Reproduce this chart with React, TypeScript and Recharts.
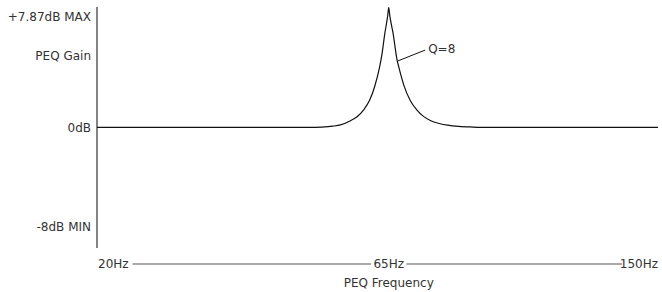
import React from 'react';
import { LineChart, Line, XAxis, YAxis, ReferenceLine, ReferenceDot } from 'recharts';

// Curve samples (x position on frequency axis 0..100, gain in dB)
const freqPos = [0, 38, 40, 42, 43.4, 45, 46.36, 47.5, 48.61, 49.5, 50.39, 50.8, 51.28, 51.82, 52,
  52.19, 52.78, 53.49, 53.78, 54.7, 55.86, 57, 58.2, 59.5, 61, 62.5, 64.5, 67, 70, 100];
const gainDb = [0, 0, 0.03, 0.1, 0.2, 0.5, 0.86, 1.4, 2.2, 3.3, 4.89, 5.9, 7.5, 9.0, 9.67,
  9.0, 7.58, 5.43, 4.89, 3.39, 2.15, 1.42, 0.89, 0.54, 0.32, 0.18, 0.08, 0.03, 0, 0];

const xTicks = [0, 52, 100];
const xTickLabels = ['20Hz', '65Hz', '150Hz'];
const xAxisTitle = 'PEQ Frequency';

const yTicks = [8.9, 5.75, 0, -8];
const yTickLabels = ['+7.87dB MAX', 'PEQ Gain', '0dB', '-8dB MIN'];

const qLabel = 'Q=8';

const data = freqPos.map((p, i) => ({ pos: p, gain: gainDb[i] }));

const FONT = 'DejaVu Sans';
const TEXT = '#333';

const XTick = (props: any) => {
  const { x, y, index } = props;
  const label = xTickLabels[index];
  if (index === 0) {
    return (
      <g>
        <rect x={x - 2} y={y - 8} width={37.5} height={16} fill="#fff" />
        <text x={x + 1} y={y} dy="0.35em" textAnchor="start" fill={TEXT} fontSize={12} fontFamily={FONT}>{label}</text>
      </g>
    );
  }
  if (index === xTicks.length - 1) {
    return (
      <g>
        <rect x={x - 36} y={y - 8} width={40} height={16} fill="#fff" />
        <text x={x} y={y} dy="0.35em" textAnchor="end" fill={TEXT} fontSize={12} fontFamily={FONT}>{label}</text>
      </g>
    );
  }
  return (
    <g>
      <rect x={x - 17.7} y={y - 8} width={35.4} height={16} fill="#fff" />
      <text x={x} y={y} dy="0.35em" textAnchor="middle" fill={TEXT} fontSize={12} fontFamily={FONT}>{label}</text>
      <text x={x} y={y + 19} dy="0.35em" textAnchor="middle" fill={TEXT} fontSize={12} fontFamily={FONT}>{xAxisTitle}</text>
    </g>
  );
};

const YTick = (props: any) => {
  const { x, y, payload } = props;
  const i = yTicks.indexOf(payload.value);
  const label = i >= 0 ? yTickLabels[i] : '';
  return (
    <text x={x} y={y} dy="0.35em" textAnchor="end" fill={TEXT} fontSize={12} fontFamily={FONT}>{label}</text>
  );
};

export default function App() {
  return (
    <div style={{ position: 'absolute', left: 0, top: 0, background: '#fff' }}>
      <LineChart width={662} height={292} data={data} margin={{ top: 7, right: 4, bottom: 0, left: 0 }}>
        <XAxis
          type="number"
          dataKey="pos"
          domain={[0, 100]}
          ticks={xTicks}
          interval={0}
          height={28}
          tickSize={0}
          tickMargin={0}
          tickLine={false}
          axisLine={{ stroke: '#555', strokeWidth: 1 }}
          tick={<XTick />}
          allowDataOverflow
        />
        <YAxis
          type="number"
          domain={[-11, 9.7]}
          ticks={yTicks}
          interval={0}
          width={97}
          tickSize={0}
          tickMargin={6}
          tickLine={false}
          axisLine={false}
          allowDataOverflow
          tick={<YTick />}
        />
        <ReferenceLine
          segment={[{ x: 0, y: 9.7 }, { x: 0, y: -9.71 }]}
          stroke="#666"
          strokeWidth={1.6}
          ifOverflow="visible"
        />
        <Line
          type="monotone"
          dataKey="gain"
          stroke="#111"
          strokeWidth={1.2}
          dot={false}
          isAnimationActive={false}
        />
        <ReferenceLine
          segment={[{ x: 53.6, y: 5.35 }, { x: 58.5, y: 6.23 }]}
          stroke="#111"
          strokeWidth={1}
          ifOverflow="visible"
        />
        <ReferenceDot
          x={58.5}
          y={6.3}
          r={0}
          stroke="none"
          fill="none"
          ifOverflow="visible"
          label={{ value: qLabel, position: 'right', offset: 3, fill: TEXT, fontSize: 12, fontFamily: FONT }}
        />
      </LineChart>
    </div>
  );
}
